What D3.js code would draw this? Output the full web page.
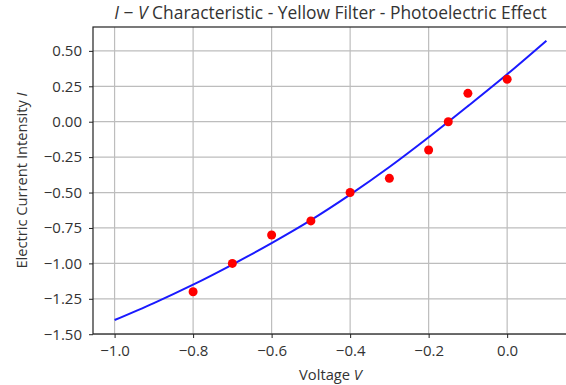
<!DOCTYPE html>
<html>
<head>
<meta charset="utf-8">
<script src="https://cdn.jsdelivr.net/npm/d3@7"></script>
<style>
  body { margin: 0; background: #fff; }
  svg { display: block; font-family: "Open Sans", sans-serif; }
</style>
</head>
<body>
<svg id="chart" width="566" height="385"></svg>
<script>
// measured points
const voltage = [-0.8, -0.7, -0.6, -0.5, -0.4, -0.3, -0.2, -0.15, -0.1, 0.0];
const current = [-1.2, -1.0, -0.8, -0.7, -0.5, -0.4, -0.2, 0.0, 0.2, 0.3];

// fitted curve
const fitVoltage = [-1.0, -0.9, -0.8, -0.7, -0.6, -0.5, -0.4, -0.3, -0.2, -0.1, 0.0, 0.1];
const fitCurrent = [-1.400, -1.280, -1.150, -1.008, -0.857, -0.695, -0.515, -0.320, -0.110, 0.110, 0.335, 0.572];

const xTicks = [-1.0, -0.8, -0.6, -0.4, -0.2, 0.0];
const yTicks = [-1.5, -1.25, -1.0, -0.75, -0.5, -0.25, 0.0, 0.25, 0.5];

class IVPlot {
  constructor(svg) {
    this.svg = svg;
    this.left = 93;
    this.right = 568;
    this.top = 27;
    this.bottom = 334;
    this.x = d3.scaleLinear().domain([-1.055, 0.155]).range([this.left, this.right]);
    this.y = d3.scaleLinear().domain([-1.4985, 0.6685]).range([this.bottom, this.top]);
  }

  fmt(d, n) {
    return d3.format("." + n + "f")(d).replace("-", "\u2212");
  }

  drawGrid() {
    const g = this.svg.append("g").attr("class", "grid");
    g.selectAll(".gx").data(xTicks).enter().append("line")
      .attr("x1", (d) => this.x(d)).attr("x2", (d) => this.x(d))
      .attr("y1", this.top).attr("y2", this.bottom)
      .style("stroke", "#bdbdbd").style("stroke-width", 1.2);
    g.selectAll(".gy").data(yTicks).enter().append("line")
      .attr("x1", this.left).attr("x2", this.right)
      .attr("y1", (d) => this.y(d)).attr("y2", (d) => this.y(d))
      .style("stroke", "#bdbdbd").style("stroke-width", 1.2);
  }

  drawAxes() {
    const xAxis = d3.axisBottom(this.x).tickValues(xTicks).tickSize(4).tickPadding(7)
      .tickFormat((d) => this.fmt(d, 1));
    const yAxis = d3.axisLeft(this.y).tickValues(yTicks).tickSize(4).tickPadding(7)
      .tickFormat((d) => this.fmt(d, 2));

    const gx = this.svg.append("g")
      .attr("transform", "translate(0," + this.bottom + ")")
      .call(xAxis);
    const gy = this.svg.append("g")
      .attr("transform", "translate(" + this.left + ",0)")
      .call(yAxis);
    [gx, gy].forEach((g) => {
      g.select(".domain").remove();
      g.selectAll("text").style("font-size", "15px").style("fill", "#333")
        .style("font-family", "Open Sans, sans-serif");
      g.selectAll("line").style("stroke", "#222");
    });

    // frame
    this.svg.append("rect")
      .attr("x", this.left).attr("y", this.top)
      .attr("width", this.right - this.left).attr("height", this.bottom - this.top)
      .style("fill", "none").style("stroke", "#222").style("stroke-width", 1.2);
  }

  drawFit() {
    const pts = fitVoltage.map((v, i) => [this.x(v), this.y(fitCurrent[i])]);
    this.svg.append("path")
      .attr("d", d3.line().curve(d3.curveCatmullRom)(pts))
      .style("fill", "none")
      .style("stroke", "#1a1aff")
      .style("stroke-width", 2);
  }

  drawPoints() {
    this.svg.selectAll(".pt")
      .data(voltage.map((v, i) => ({ v: v, i: current[i] })))
      .enter().append("circle")
      .attr("cx", (d) => this.x(d.v))
      .attr("cy", (d) => this.y(d.i))
      .attr("r", 4.5)
      .style("fill", "#ff0000");
  }

  drawLabels() {
    const cx = (this.left + this.right) / 2;
    const title = this.svg.append("text")
      .attr("x", cx).attr("y", 19)
      .attr("text-anchor", "middle")
      .style("font-size", "17.4px").style("fill", "#333");
    title.append("tspan").style("font-style", "italic").text("I");
    title.append("tspan").text(" \u2212 ");
    title.append("tspan").style("font-style", "italic").text("V");
    title.append("tspan").text(" Characteristic - Yellow Filter - Photoelectric Effect");

    const xl = this.svg.append("text")
      .attr("x", cx).attr("y", 379.5)
      .attr("text-anchor", "middle")
      .style("font-size", "14.7px").style("fill", "#333");
    xl.append("tspan").text("Voltage ");
    xl.append("tspan").style("font-style", "italic").text("V");

    const yl = this.svg.append("text")
      .attr("transform", "translate(27," + (this.top + this.bottom) / 2 + ") rotate(-90)")
      .attr("text-anchor", "middle")
      .style("font-size", "14.7px").style("fill", "#333");
    yl.append("tspan").text("Electric Current Intensity ");
    yl.append("tspan").style("font-style", "italic").text("I");
  }

  plot() {
    this.drawGrid();
    this.drawAxes();
    this.drawFit();
    this.drawPoints();
    this.drawLabels();
  }
}

new IVPlot(d3.select("#chart")).plot();
</script>
</body>
</html>
